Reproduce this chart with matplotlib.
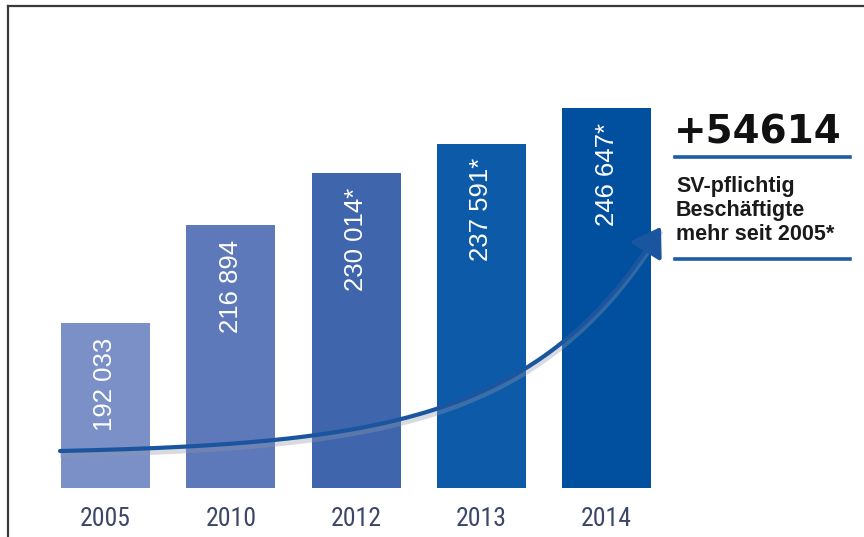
import matplotlib
matplotlib.use("Agg")
import numpy as np
import matplotlib.pyplot as plt
from matplotlib import font_manager as fm
from matplotlib.path import Path
from matplotlib.patches import FancyArrowPatch, PathPatch
from matplotlib.lines import Line2D

years = ["2005", "2010", "2012", "2013", "2014"]
values = [192033, 216894, 230014, 237591, 246647]
labels = ["192 033", "216 894", "230 014*", "237 591*", "246 647*"]
colors = ["#7a90c6", "#5d79b9", "#3f66ad", "#0d5aa8", "#00509f"]
headline = "+54614"
note_lines = ["SV-pflichtig", "Beschäftigte", "mehr seit 2005*"]

W, H = 864, 537
fig = plt.figure(figsize=(W / 100, H / 100), dpi=100)


def fx(px):
    return px / W


def fy(py):
    return (H - py) / H


# pick an upright, regular-weight condensed font for the year labels
def condensed_font():
    fl = [f for f in fm.fontManager.ttflist if f.style == "normal"]

    def wt(f):
        try:
            return int(f.weight)
        except (TypeError, ValueError):
            return {"normal": 400, "regular": 400, "light": 300}.get(str(f.weight), 999)

    def is_cond(f):
        low = (f.name + " " + f.fname).lower()
        return ("condensed" in low or "narrow" in low
                or str(f.stretch) in ("condensed", "semi-condensed", "extra-condensed"))

    def bad(f):
        low = f.fname.lower()
        return any(k in low for k in ("italic", "oblique", "-it.", "bold", "black"))

    cands = [f for f in fl if is_cond(f) and not bad(f) and wt(f) in (300, 400)]
    pref = ["Liberation Sans Narrow", "Roboto Condensed", "DejaVu Sans Condensed"]
    cands.sort(key=lambda f: (pref.index(f.name) if f.name in pref else 9,
                              abs(wt(f) - 400)))
    if cands:
        return fm.FontProperties(fname=cands[0].fname)
    return None


cprop = condensed_font()

ax = fig.add_axes([fx(42.85), fy(488), fx(626.5), fy(20) - fy(488)])
x = list(range(len(years)))
ax.bar(x, values, width=0.71, color=colors, zorder=2)
ax.set_xlim(-0.5, 4.5)
ax.set_ylim(150100, 269000)
for s in ax.spines.values():
    s.set_visible(False)
ax.set_yticks([])
ax.set_xticks(x)
if cprop is not None:
    ax.set_xticklabels(years, fontproperties=cprop, color="#3b4668")
    for t in ax.get_xticklabels():
        t.set_fontsize(18.5)
else:
    ax.set_xticklabels(years, family="Liberation Sans", fontsize=15,
                       color="#3b4668")
ax.tick_params(axis="x", length=0, pad=14)
ax.patch.set_alpha(0)

for xi, v, lab in zip(x, values, labels):
    ax.annotate(lab, (xi, v), xytext=(0, -10.5), textcoords="offset points",
                rotation=90, ha="center", va="top", color="white",
                fontsize=18.5, family=["Liberation Sans", "DejaVu Sans"],
                zorder=3)

# curved arrow (decoration)
cx = np.linspace(60, 661, 200)
cy = 451 - 3.0 * (np.exp(0.0072 * (cx - 60)) - 1)


def mkpath(off=0):
    verts = [(fx(a), fy(b + off)) for a, b in zip(cx, cy)]
    return Path(verts)


shadow = PathPatch(mkpath(4), transform=fig.transFigure, fill=False,
                   edgecolor="#8f98ab", lw=4, alpha=0.35, zorder=4)
fig.add_artist(shadow)
arrow = FancyArrowPatch(path=mkpath(0), transform=fig.transFigure,
                        arrowstyle="-|>,head_length=17,head_width=11",
                        color="#1b55a0", lw=3.0, zorder=5,
                        shrinkA=0, shrinkB=0)
fig.add_artist(arrow)

# right annotation
fig.text(fx(674), fy(144), headline, fontsize=28, fontweight="bold",
         family="DejaVu Sans", color="#111111", ha="left", va="baseline")
fig.add_artist(Line2D([fx(675), fx(850)], [fy(157), fy(157)],
                      color="#1f5aa6", lw=2.6, transform=fig.transFigure))
for i, t in enumerate(note_lines):
    fig.text(fx(676), fy(192 + 24 * i), t, fontsize=15.5, fontweight="bold",
             family=["Liberation Sans", "DejaVu Sans"], color="#1a1a1a",
             ha="left", va="baseline")
fig.add_artist(Line2D([fx(675), fx(850)], [fy(259), fy(259)],
                      color="#1f5aa6", lw=2.6, transform=fig.transFigure))

# frame
fig.add_artist(Line2D([fx(8), fx(864)], [fy(6), fy(6)], color="#3a3a3a",
                      lw=1.6, transform=fig.transFigure))
fig.add_artist(Line2D([fx(8), fx(8)], [fy(6), fy(537)], color="#3a3a3a",
                      lw=1.6, transform=fig.transFigure))

fig.savefig("out.png", dpi=100)
